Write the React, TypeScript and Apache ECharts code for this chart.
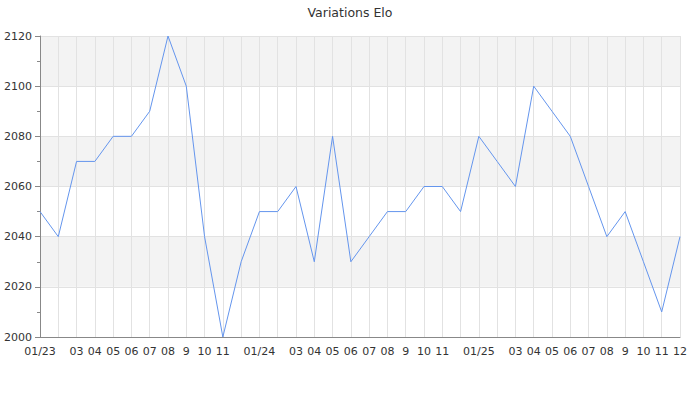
import React, { useEffect, useRef } from "react";
import * as echarts from "echarts";

const months = [
  "01/23", "02", "03", "04", "05", "06", "07", "08", "9", "10", "11", "12",
  "01/24", "02", "03", "04", "05", "06", "07", "08", "9", "10", "11", "12",
  "01/25", "02", "03", "04", "05", "06", "07", "08", "9", "10", "11", "12",
];

const elo = [
  2050, 2040, 2070, 2070, 2080, 2080, 2090, 2120, 2100, 2040, 2000, 2030,
  2050, 2050, 2060, 2030, 2080, 2030, 2040, 2050, 2050, 2060, 2060, 2050,
  2080, 2070, 2060, 2100, 2090, 2080, 2060, 2040, 2050, 2030, 2010, 2040,
];

const title = "Variations Elo";

export default function App() {
  const ref = useRef<HTMLDivElement>(null);
  useEffect(() => {
    if (!ref.current) return;
    const chart = echarts.init(ref.current, undefined, { renderer: "svg" });
    const last = months.length - 1;
    chart.setOption({
      animation: false,
      textStyle: { fontFamily: "DejaVu Sans" },
      title: {
        text: title,
        left: "center",
        top: 2,
        padding: 0,
        textStyle: { fontSize: 12.5, fontWeight: "normal", color: "#333", fontFamily: "DejaVu Sans", lineHeight: 20 },
      },
      grid: { left: 40, right: 20, top: 36, bottom: 63 },
      xAxis: {
        type: "category",
        data: months,
        boundaryGap: false,
        axisLine: { lineStyle: { color: "#888" } },
        axisTick: { show: false },
        axisLabel: {
          interval: (i: number, v: string) => !(v === "02" || (v === "12" && i !== last)),
          color: "#333",
          fontSize: 11,
          margin: 9,
          fontFamily: "DejaVu Sans",
        },
        splitLine: { show: true, interval: 0, lineStyle: { color: "#e2e2e2" } },
      },
      yAxis: {
        type: "value",
        min: 2000,
        max: 2120,
        interval: 20,
        axisLine: { show: true, lineStyle: { color: "#888" } },
        axisTick: { show: true, length: 5, lineStyle: { color: "#888" } },
        minorTick: { show: true, splitNumber: 2, length: 3, lineStyle: { color: "#888" } },
        axisLabel: {
          color: "#333",
          fontSize: 11,
          margin: 8,
          fontFamily: "DejaVu Sans",
          formatter: (v: number) => String(v),
        },
        splitLine: { show: true, lineStyle: { color: "#e2e2e2" } },
        splitArea: { show: true, areaStyle: { color: ["#ffffff", "#f3f3f3"] } },
      },
      series: [
        {
          type: "line",
          data: elo,
          symbol: "none",
          lineStyle: { color: "#6495ED", width: 1 },
        },
      ],
    });
    return () => chart.dispose();
  }, []);
  return (
    <div
      ref={ref}
      style={{ position: "absolute", left: 0, top: 0, width: 700, height: 400 }}
    />
  );
}
